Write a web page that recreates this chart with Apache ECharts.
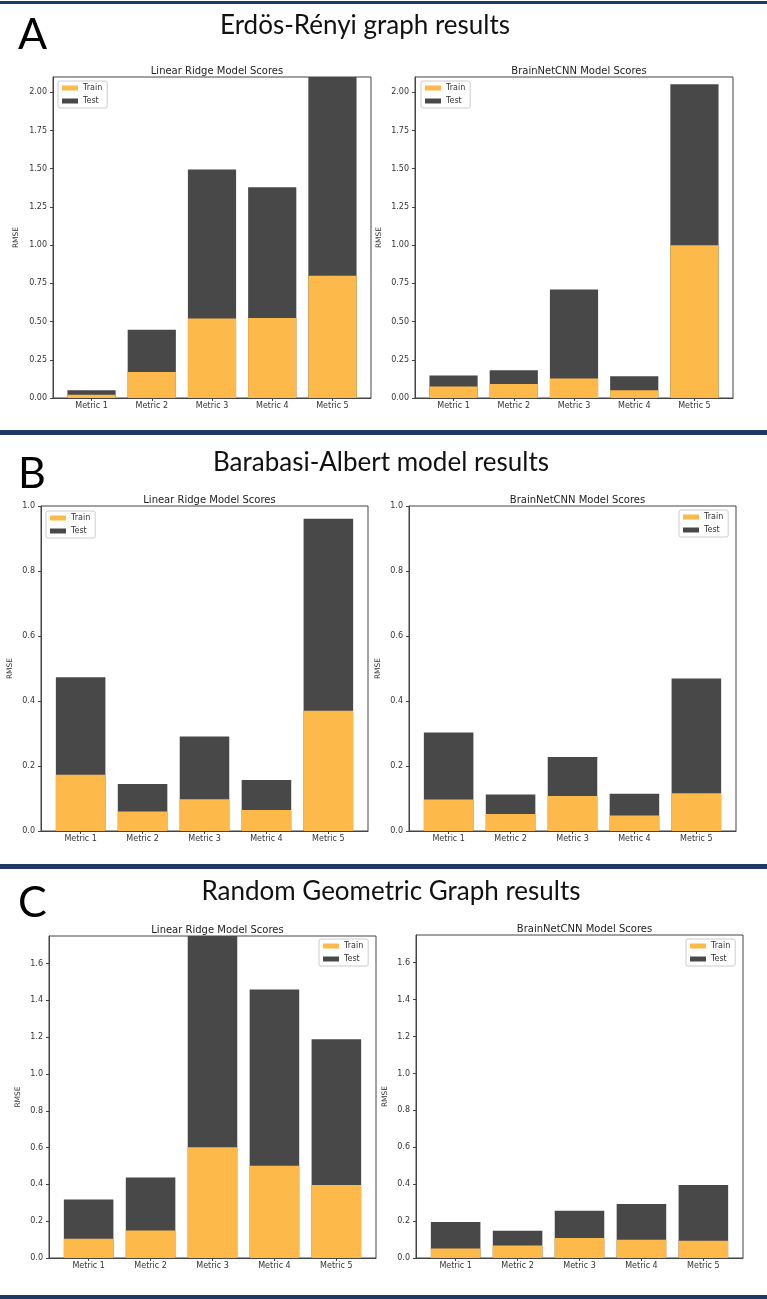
<!DOCTYPE html>
<html><head><meta charset="utf-8">
<script src="https://cdn.jsdelivr.net/npm/echarts@6/dist/echarts.min.js"></script>
<style>html,body{margin:0;padding:0;background:#fff}#c{width:767px;height:1299px}</style>
</head><body><div id="c"></div>
<script>
// ---- data ----
const categories = ['Metric 1', 'Metric 2', 'Metric 3', 'Metric 4', 'Metric 5'];
const xPositions = [0, 1, 2, 3, 4];
const ticksA = [0, 0.25, 0.5, 0.75, 1.0, 1.25, 1.5, 1.75, 2.0];
const ticksB = [0, 0.2, 0.4, 0.6, 0.8, 1.0];
const ticksC = [0, 0.2, 0.4, 0.6, 0.8, 1.0, 1.2, 1.4, 1.6];
const sectionTitles = ['Erdös-Rényi graph results', 'Barabasi-Albert model results', 'Random Geometric Graph results'];
const sectionLetters = ['A', 'B', 'C'];
const modelTitles = ['Linear Ridge Model Scores', 'BrainNetCNN Model Scores'];

// Erdös-Rényi (train segment, test segment stacked on top)
const erRidgeTrain = [0.022, 0.170, 0.520, 0.524, 0.800];
const erRidgeTest  = [0.028, 0.277, 0.975, 0.854, 1.300];
const erCnnTrain   = [0.075, 0.092, 0.127, 0.050, 1.000];
const erCnnTest    = [0.072, 0.089, 0.583, 0.092, 1.052];
// Barabasi-Albert
const baRidgeTrain = [0.173, 0.060, 0.098, 0.065, 0.370];
const baRidgeTest  = [0.300, 0.085, 0.193, 0.092, 0.591];
const baCnnTrain   = [0.097, 0.052, 0.108, 0.048, 0.116];
const baCnnTest    = [0.206, 0.060, 0.120, 0.067, 0.353];
// Random Geometric Graph
const rgRidgeTrain = [0.105, 0.150, 0.602, 0.502, 0.397];
const rgRidgeTest  = [0.213, 0.287, 1.148, 0.957, 0.792];
const rgCnnTrain   = [0.052, 0.068, 0.108, 0.099, 0.094];
const rgCnnTest    = [0.143, 0.080, 0.148, 0.194, 0.302];

// ---- layout / style ----
const TRAIN = '#fdba4a', TEST = '#484848', NAVY = '#1f3864';
const FONT = 'DejaVu Sans';
const XMIN = -0.64, XMAX = 4.64;

const panels = [
  {t: 0, train: erRidgeTrain, test: erRidgeTest, ticks: ticksA, dec: 2, ymax: 2.1,  grid: {left: 53, top: 77, width: 318, height: 321}, leg: {left: 58, top: 81}, gap: 33},
  {t: 1, train: erCnnTrain,   test: erCnnTest,   ticks: ticksA, dec: 2, ymax: 2.1,  grid: {left: 415, top: 77, width: 318, height: 321}, leg: {left: 421, top: 81}, gap: 32},
  {t: 0, train: baRidgeTrain, test: baRidgeTest, ticks: ticksB, dec: 1, ymax: 1.0,  grid: {left: 41, top: 506, width: 327, height: 325}, leg: {left: 46, top: 511}, gap: 27},
  {t: 1, train: baCnnTrain,   test: baCnnTest,   ticks: ticksB, dec: 1, ymax: 1.0,  grid: {left: 409, top: 506, width: 327, height: 325}, leg: {left: 679, top: 510}, gap: 27},
  {t: 0, train: rgRidgeTrain, test: rgRidgeTest, ticks: ticksC, dec: 1, ymax: 1.75, grid: {left: 49, top: 936, width: 327, height: 322}, leg: {left: 319, top: 939}, gap: 27},
  {t: 1, train: rgCnnTrain,   test: rgCnnTest,   ticks: ticksC, dec: 1, ymax: 1.75, grid: {left: 416, top: 935, width: 327, height: 323}, leg: {left: 686, top: 939}, gap: 27}
];

const sectionPos = [
  {cx: 360, top: 8, ly: 9},
  {cx: 376, top: 445, ly: 448},
  {cx: 386, top: 874, ly: 877}
];
const sepLines = [{y: 1, h: 3}, {y: 430, h: 5}, {y: 864, h: 5}, {y: 1295, h: 4}];

const grids = [], xAxes = [], yAxes = [], series = [], legends = [], titles = [];

panels.forEach((p, i) => {
  grids.push(Object.assign({show: true, borderColor: '#444', borderWidth: 1, backgroundColor: '#fff'}, p.grid));
  xAxes.push({
    type: 'value', gridIndex: i, min: XMIN, max: XMAX,
    axisLine: {show: true, onZero: false, lineStyle: {color: '#444', width: 1}},
    axisTick: {show: true, length: 3, customValues: xPositions, lineStyle: {color: '#444'}},
    axisLabel: {customValues: xPositions, margin: 4, fontSize: 8, color: '#333', fontFamily: FONT,
      formatter: v => categories[Math.round(v)]},
    splitLine: {show: false}
  });
  yAxes.push({
    type: 'value', gridIndex: i, min: 0, max: p.ymax,
    name: 'RMSE', nameLocation: 'middle', nameGap: p.gap,
    nameTextStyle: {fontSize: 7.5, color: '#333', fontFamily: FONT},
    axisLine: {show: true, onZero: false, lineStyle: {color: '#444', width: 1}},
    axisTick: {show: true, length: 3, customValues: p.ticks, lineStyle: {color: '#444'}},
    axisLabel: {customValues: p.ticks, margin: 6, fontSize: 8, color: '#333', fontFamily: FONT,
      formatter: v => v.toFixed(p.dec)},
    splitLine: {show: false}
  });
  // Test segment sits on top of the Train segment: its bar spans train .. train+test.
  // Drawn as the full stacked height first, then Train overlaid at the same position.
  series.push({
    type: 'bar', name: 'Test', xAxisIndex: i, yAxisIndex: i,
    barWidth: '80%', barGap: '-100%', itemStyle: {color: TEST}, silent: true, z: 2,
    data: p.test.map((v, k) => [xPositions[k], p.train[k] + v])
  });
  series.push({
    type: 'bar', name: 'Train', xAxisIndex: i, yAxisIndex: i,
    barWidth: '80%', barGap: '-100%', itemStyle: {color: TRAIN}, silent: true, z: 3,
    data: p.train.map((v, k) => [xPositions[k], v])
  });
  legends.push({
    data: ['Train', 'Test'], orient: 'vertical', left: p.leg.left, top: p.leg.top,
    itemWidth: 16, itemHeight: 5, itemGap: 5, icon: 'rect', selectedMode: false,
    padding: [3, 5, 3, 4], borderColor: '#ccc', borderWidth: 1, borderRadius: 2,
    backgroundColor: 'rgba(255,255,255,0.85)', z: 10,
    textStyle: {fontSize: 8, color: '#333', fontFamily: FONT}
  });
  titles.push({
    text: modelTitles[p.t], left: p.grid.left + p.grid.width / 2, top: p.grid.top - 16, textAlign: 'center',
    textStyle: {fontSize: 10, fontWeight: 'normal', color: '#222', fontFamily: FONT}
  });
});

sectionTitles.forEach((s, i) => {
  titles.push({text: s, left: sectionPos[i].cx, top: sectionPos[i].top, textAlign: 'center',
    textStyle: {fontSize: 26, fontWeight: 'normal', color: '#111', fontFamily: 'Lato'}});
  titles.push({text: sectionLetters[i], left: 13, top: sectionPos[i].ly,
    textStyle: {fontSize: 43, fontWeight: 'normal', color: '#000', fontFamily: 'Lato'}});
});

const graphics = sepLines.map(l => ({type: 'rect', shape: {x: 0, y: l.y, width: 767, height: l.h}, style: {fill: NAVY}, silent: true}));

const chart = echarts.init(document.getElementById('c'), null, {renderer: 'canvas'});
chart.setOption({
  backgroundColor: '#fff', animation: false,
  title: titles, grid: grids, xAxis: xAxes, yAxis: yAxes, legend: legends, series: series, graphic: graphics
});
</script></body></html>
